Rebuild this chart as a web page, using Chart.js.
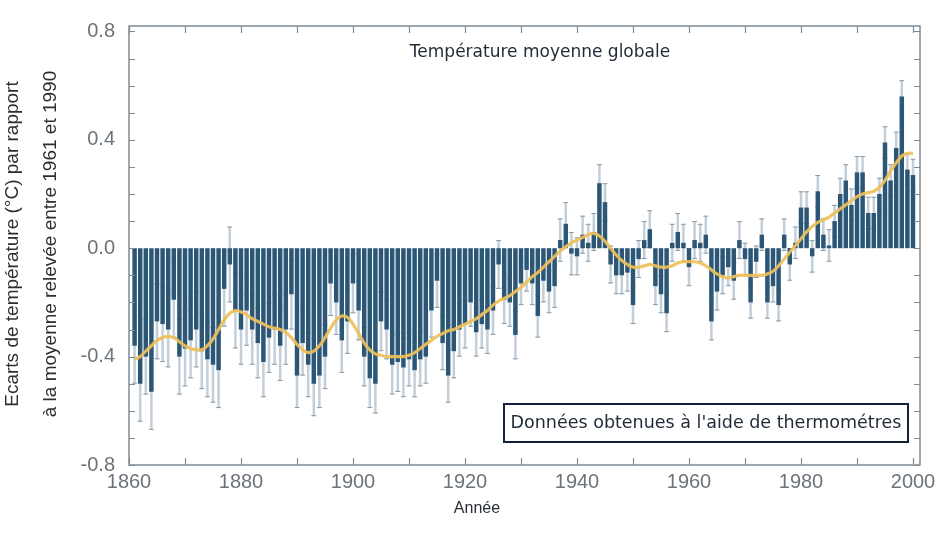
<!DOCTYPE html>
<html lang="fr">
<head>
<meta charset="utf-8">
<title>Température moyenne globale</title>
<script src="https://cdn.jsdelivr.net/npm/chart.js@4.4.1/dist/chart.umd.min.js"></script>
<style>
    html, body { margin: 0; padding: 0; background: #ffffff; }
    #chart { display: block; }
</style>
</head>
<body>
<canvas id="chart" width="950" height="536"></canvas>
<script>
// Years 1861 - 2000, one bar each
const years = [];
for (let y = 1861; y <= 2000; y++) years.push(y);

// Annual anomalies (°C), one row per decade
const anomalies = [
    -0.36, -0.50, -0.40, -0.53, -0.27, -0.28, -0.30, -0.19, -0.40, -0.37,
    -0.34, -0.30, -0.38, -0.41, -0.43, -0.45, -0.15, -0.06, -0.23, -0.30,
    -0.23, -0.30, -0.35, -0.42, -0.33, -0.30, -0.36, -0.30, -0.17, -0.47,
    -0.35, -0.43, -0.50, -0.47, -0.40, -0.13, -0.20, -0.34, -0.27, -0.13,
    -0.23, -0.40, -0.48, -0.50, -0.27, -0.30, -0.43, -0.42, -0.44, -0.41,
    -0.45, -0.41, -0.40, -0.23, -0.12, -0.35, -0.47, -0.38, -0.30, -0.28,
    -0.20, -0.31, -0.28, -0.30, -0.23, -0.06, -0.19, -0.20, -0.32, -0.13,
    -0.08, -0.13, -0.25, -0.12, -0.16, -0.14, 0.03, 0.09, -0.02, -0.03,
    0.05, 0.02, 0.06, 0.24, 0.17, -0.06, -0.10, -0.10, -0.09, -0.21,
    -0.04, 0.03, 0.07, -0.14, -0.17, -0.24, 0.02, 0.06, 0.02, -0.07,
    0.03, 0.02, 0.05, -0.27, -0.16, -0.10, -0.07, -0.12, 0.03, -0.04,
    -0.20, -0.05, 0.05, -0.20, -0.14, -0.21, 0.05, -0.06, 0.02, 0.15,
    0.15, -0.03, 0.21, 0.05, 0.01, 0.10, 0.20, 0.25, 0.16, 0.28,
    0.28, 0.13, 0.13, 0.20, 0.39, 0.25, 0.37, 0.56, 0.29, 0.27
];

// Smoothed curve (yellow)
const smoothed = [
    -0.41, -0.40, -0.38, -0.36, -0.34, -0.33, -0.325, -0.33, -0.345, -0.36,
    -0.37, -0.375, -0.375, -0.36, -0.335, -0.30, -0.265, -0.24, -0.23, -0.235,
    -0.245, -0.26, -0.27, -0.28, -0.29, -0.295, -0.30, -0.31, -0.33, -0.355,
    -0.375, -0.385, -0.38, -0.36, -0.33, -0.295, -0.265, -0.25, -0.255, -0.28,
    -0.315, -0.35, -0.375, -0.39, -0.395, -0.40, -0.40, -0.40, -0.40, -0.395,
    -0.385, -0.37, -0.355, -0.34, -0.325, -0.315, -0.305, -0.30, -0.29, -0.28,
    -0.27, -0.26, -0.245, -0.23, -0.21, -0.195, -0.185, -0.175, -0.16, -0.145,
    -0.125, -0.105, -0.09, -0.07, -0.05, -0.03, -0.01, 0.005, 0.02, 0.03,
    0.04, 0.05, 0.055, 0.045, 0.025, 0.0, -0.025, -0.045, -0.06, -0.07,
    -0.07, -0.065, -0.06, -0.065, -0.07, -0.07, -0.065, -0.055, -0.05, -0.05,
    -0.05, -0.055, -0.065, -0.08, -0.095, -0.105, -0.11, -0.105, -0.10, -0.10,
    -0.10, -0.10, -0.10, -0.095, -0.085, -0.065, -0.04, -0.015, 0.01, 0.035,
    0.06, 0.08, 0.095, 0.105, 0.115, 0.13, 0.145, 0.16, 0.175, 0.19,
    0.20, 0.205, 0.21, 0.225, 0.25, 0.285, 0.315, 0.34, 0.35, 0.35
];

// Half-width of the uncertainty whiskers, per decade (1860s ... 2000)
const errorByDecade = [0.14, 0.14, 0.13, 0.12, 0.11, 0.10, 0.09, 0.08, 0.07, 0.07, 0.07, 0.06, 0.06, 0.06, 0.06];

// Tick positions
const xTickYears = [1860, 1870, 1880, 1890, 1900, 1910, 1920, 1930, 1940, 1950, 1960, 1970, 1980, 1990, 2000];
const xLabelYears = [1860, 1880, 1900, 1920, 1940, 1960, 1980, 2000];
const yTickValues = [-0.8, -0.7, -0.6, -0.5, -0.4, -0.3, -0.2, -0.1, 0, 0.1, 0.2, 0.3, 0.4, 0.5, 0.6, 0.7, 0.8];
const yLabelValues = [-0.8, -0.4, 0, 0.4, 0.8];

const frameColor = '#7f8b94';
const textColor = '#1f2a37';

function errorFor(year) {
    return errorByDecade[Math.floor((year - 1860) / 10)];
}

// Whiskers, drawn under the bars so only the part outside a bar shows
const whiskerPlugin = {
    id: 'whiskers',
    beforeDatasetsDraw(chart) {
        const { ctx, scales: { x, y } } = chart;
        ctx.save();
        years.forEach((year, i) => {
            const e = errorFor(year);
            const px = x.getPixelForValue(year);
            const top = y.getPixelForValue(anomalies[i] + e);
            const bottom = y.getPixelForValue(anomalies[i] - e);
            ctx.strokeStyle = '#c3cfd8';
            ctx.lineWidth = 2.5;
            ctx.beginPath();
            ctx.moveTo(px, top);
            ctx.lineTo(px, bottom);
            ctx.stroke();
            ctx.strokeStyle = '#8e9aa3';
            ctx.lineWidth = 1;
            ctx.beginPath();
            ctx.moveTo(px - 2.5, top + 0.5);
            ctx.lineTo(px + 2.5, top + 0.5);
            ctx.moveTo(px - 2.5, bottom - 0.5);
            ctx.lineTo(px + 2.5, bottom - 0.5);
            ctx.stroke();
        });
        ctx.restore();
    }
};

// Frame, inward ticks and all the texts
const decorPlugin = {
    id: 'decor',
    afterDraw(chart) {
        const { ctx, chartArea: a, scales: { x, y } } = chart;
        ctx.save();

        ctx.strokeStyle = frameColor;
        ctx.lineWidth = 1.5;
        ctx.strokeRect(a.left, a.top, a.right - a.left, a.bottom - a.top);

        ctx.lineWidth = 1.2;
        ctx.beginPath();
        xTickYears.forEach(v => {
            const px = Math.round(x.getPixelForValue(v)) + 0.5;
            ctx.moveTo(px, a.bottom);
            ctx.lineTo(px, a.bottom - 7);
            ctx.moveTo(px, a.top);
            ctx.lineTo(px, a.top + 7);
        });
        yTickValues.forEach(v => {
            const py = Math.round(y.getPixelForValue(v)) + 0.5;
            ctx.moveTo(a.left, py);
            ctx.lineTo(a.left + 6, py);
            ctx.moveTo(a.right, py);
            ctx.lineTo(a.right - 6, py);
        });
        ctx.stroke();

        // title inside the plot
        ctx.fillStyle = textColor;
        ctx.textAlign = 'center';
        ctx.textBaseline = 'middle';
        ctx.font = '17px "DejaVu Sans"';
        ctx.fillText('Température moyenne globale', 540, 53);

        // boxed note
        ctx.fillStyle = '#ffffff';
        ctx.fillRect(504, 404, 404, 38);
        ctx.strokeStyle = '#13213a';
        ctx.lineWidth = 2;
        ctx.strokeRect(504, 404, 404, 38);
        ctx.fillStyle = textColor;
        ctx.font = '17.5px "DejaVu Sans"';
        ctx.fillText("Données obtenues à l'aide de thermométres", 706, 423);

        // axis titles
        ctx.fillStyle = '#2a2f36';
        ctx.font = '16px "Liberation Sans"';
        ctx.fillText('Année', 477, 509);

        ctx.font = '19px "Liberation Sans"';
        ctx.translate(0, 244);
        ctx.rotate(-Math.PI / 2);
        ctx.fillText('Ecarts de température (°C) par rapport', 0, 13);
        ctx.fillText('à la moyenne relevée entre 1961 et 1990', 0, 51);

        ctx.restore();
    }
};

function buildChart() {
    const ctx = document.getElementById('chart').getContext('2d');
    return new Chart(ctx, {
        type: 'bar',
        data: {
            datasets: [
                {
                    type: 'line',
                    data: years.map((year, i) => ({ x: year, y: smoothed[i] })),
                    borderColor: 'rgba(238, 192, 88, 0.92)',
                    borderWidth: 3.2,
                    pointRadius: 0,
                    tension: 0.4,
                    order: 0
                },
                {
                    data: years.map((year, i) => ({ x: year, y: anomalies[i] })),
                    backgroundColor: '#2b5676',
                    barPercentage: 1,
                    categoryPercentage: 0.8,
                    order: 1
                }
            ]
        },
        options: {
            responsive: false,
            animation: false,
            layout: { padding: { left: 0, right: 30, top: 17, bottom: 0 } },
            plugins: {
                legend: { display: false },
                tooltip: { enabled: false }
            },
            scales: {
                x: {
                    type: 'linear',
                    min: 1860,
                    max: 2001.25,
                    offset: false,
                    grid: { display: false, drawTicks: false },
                    border: { display: false },
                    afterBuildTicks: s => { s.ticks = xLabelYears.map(v => ({ value: v })); },
                    afterFit: s => { s.height = 71; },
                    ticks: {
                        autoSkip: false,
                        maxRotation: 0,
                        padding: 5,
                        color: '#6c7379',
                        font: { family: '"Liberation Sans"', size: 20 },
                        callback: v => String(v)
                    }
                },
                y: {
                    min: -0.8,
                    max: 0.82,
                    grid: { display: false, drawTicks: false },
                    border: { display: false },
                    afterBuildTicks: s => { s.ticks = yLabelValues.map(v => ({ value: v })); },
                    afterFit: s => { s.width = 129; },
                    ticks: {
                        padding: 14,
                        color: '#6c7379',
                        font: { family: '"Liberation Sans"', size: 20 },
                        callback: v => v.toFixed(1)
                    }
                }
            }
        },
        plugins: [whiskerPlugin, decorPlugin]
    });
}

buildChart();
</script>
</body>
</html>
